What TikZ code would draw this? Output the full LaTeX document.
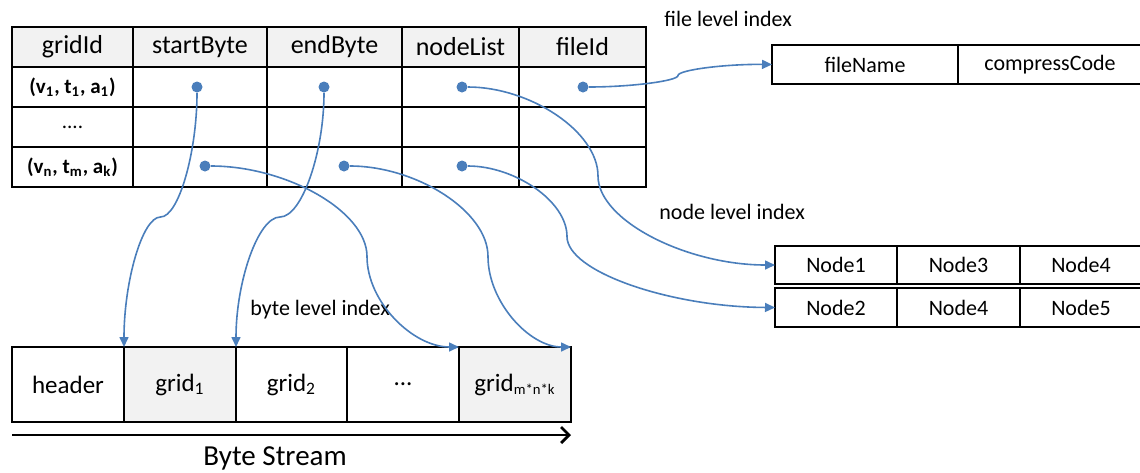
\documentclass[tikz,border=0pt]{standalone}
\usepackage{fontspec}
\setmainfont{Carlito}
\usetikzlibrary{arrows.meta}

\definecolor{linkblue}{HTML}{4A7EBB}
\definecolor{shade}{HTML}{F2F2F2}

\tikzset{
  cell/.style={draw, line width=0.8pt, anchor=north west, inner sep=0pt, outer sep=0pt},
  hcell/.style={cell, fill=shade},
  tabtext/.style={font=\fontsize{13}{15}\selectfont},
  rowtext/.style={font=\fontsize{10.5}{13}\selectfont},
  boxtext/.style={font=\fontsize{11}{13}\selectfont},
  bytetext/.style={font=\fontsize{12.5}{15}\selectfont},
  lbl/.style={anchor=west, inner sep=0pt, font=\fontsize{11}{13}\selectfont},
  dot/.style={circle, fill=linkblue, inner sep=0pt, minimum size=5.5pt},
  ptr/.style={draw=linkblue, line width=0.8pt, -{Triangle[length=5pt,width=4.5pt]}},
  stream/.style={draw, line width=1.4pt, -{Straight Barb[length=4pt,width=8pt]}}
}

\begin{document}
\begin{tikzpicture}[x=0.5pt, y=-0.5pt]
  \useasboundingbox (0,0) rectangle (1140,472);

  % grid table: header row
  \foreach \c/\x/\w/\t in {gid/12/60.5/gridId, sb/133/67/startByte, eb/267/67.5/endByte,
                           nl/402/58.5/nodeList, fid/519/63.5/fileId}
    \node[hcell, tabtext, minimum width=\w pt, minimum height=20pt] (\c0) at (\x,27) {\t};

  % grid table: body
  \node[cell, rowtext, minimum width=60.5pt, minimum height=20pt] (gid1) at (12,67)
    {\textbf{(v\textsubscript{1}, t\textsubscript{1}, a\textsubscript{1})}};
  \node[cell, rowtext, minimum width=60.5pt, minimum height=20pt] (gid2) at (12,107) {....};
  \node[cell, rowtext, minimum width=60.5pt, minimum height=20pt] (gid3) at (12,147)
    {\textbf{(v\textsubscript{n}, t\textsubscript{m}, a\textsubscript{k})}};
  \foreach \c/\x/\w in {sb/133/67, eb/267/67.5, nl/402/58.5, fid/519/63.5}
    \foreach \r in {1,2,3}
      \node[cell, minimum width=\w pt, minimum height=20pt] (\c\r) at (\x,27+40*\r) {};

  % pointers
  \node[dot] (sbd1) at (197,87) {};
  \node[dot] (ebd1) at (324,87) {};
  \node[dot] (nld1) at (462,87) {};
  \node[dot] (fidd1) at (583,87) {};
  \node[dot] (sbd3) at (205,166) {};
  \node[dot] (ebd3) at (344,166) {};
  \node[dot] (nld3) at (462,166) {};

  % file level index
  \node[lbl] (filelbl) at (664,19) {file level index};
  \node[cell, boxtext, minimum width=93pt, minimum height=19.5pt] (fname) at (772,45) {fileName};
  \node[cell, boxtext, minimum width=92pt, minimum height=19.5pt] (fcode) at (958,45) {compressCode};

  % node level index
  \node[lbl] (nodelbl) at (659,212) {node level index};
  \node[cell, boxtext, minimum width=61pt, minimum height=19pt] (nd1) at (775,246) {Node1};
  \node[cell, boxtext, minimum width=61.5pt, minimum height=19pt] (nd1b) at (897,246) {Node3};
  \node[cell, boxtext, minimum width=61pt, minimum height=19pt] (nd1c) at (1020,246) {Node4};
  \node[cell, boxtext, minimum width=61pt, minimum height=19.5pt] (nd2) at (775,288) {Node2};
  \node[cell, boxtext, minimum width=61.5pt, minimum height=19.5pt] (nd2b) at (897,288) {Node4};
  \node[cell, boxtext, minimum width=61pt, minimum height=19.5pt] (nd2c) at (1020,288) {Node5};

  % byte stream
  \node[lbl] (bytelbl) at (250,310) {byte level index};
  \node[cell, bytetext, minimum width=56pt, minimum height=37.5pt] (hdr) at (12,347) {header};
  \node[hcell, bytetext, minimum width=56pt, minimum height=37.5pt] (bg1) at (124,347) {grid\textsubscript{1}};
  \node[cell, bytetext, minimum width=55.5pt, minimum height=37.5pt] (bg2) at (236,347) {grid\textsubscript{2}};
  \node[cell, bytetext, minimum width=56pt, minimum height=37.5pt] (bdots) at (347,347) {...};
  \node[hcell, bytetext, minimum width=56pt, minimum height=37.5pt] (bgn) at (459,347)
    {grid{\fontsize{10.5}{12}\selectfont\textsubscript{m*n*k}}};

  \coordinate (bsl) at (12,435);
  \coordinate (bsr) at (571,435);
  \draw[stream] (bsl) -- (bsr);
  \node[font=\fontsize{14.5}{17}\selectfont, inner sep=0pt] (bslbl) at (275,458) {Byte Stream};

  % connectors
  \draw[ptr] (sbd1) .. controls (197,152) and (178.75,217) .. (160.5,217)
                    .. controls (142.25,217) and (124,282) .. (bg1.north west);
  \draw[ptr] (ebd1) .. controls (324,152) and (302,217) .. (280,217)
                    .. controls (258,217) and (236,282) .. (bg2.north west);
  \draw[ptr] (sbd3) .. controls (286,166) and (367,211) .. (367,256.5)
                    .. controls (367,302) and (413,347) .. (bgn.north west);
  \draw[ptr] (ebd3) .. controls (416,166) and (488,211) .. (488,256.5)
                    .. controls (488,302) and (529.5,347) .. (bgn.north east);
  \draw[ptr] (nld1) .. controls (530,87) and (598,131.5) .. (598,176)
                    .. controls (598,220.5) and (686.5,265) .. (nd1.west);
  \draw[ptr] (nld3) .. controls (514.5,166) and (567,201) .. (567,236.5)
                    .. controls (567,272) and (671,307) .. (nd2.west);
  \draw[ptr] (fidd1) .. controls (630,87) and (678,81) .. (678,75.5)
                     .. controls (678,70) and (725,64) .. (fname.west);
\end{tikzpicture}
\end{document}
